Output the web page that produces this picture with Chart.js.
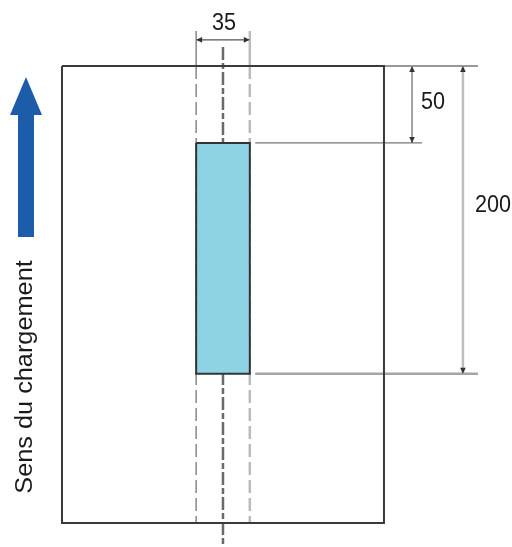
<!DOCTYPE html>
<html>
<head>
<meta charset="utf-8">
<script src="https://cdn.jsdelivr.net/npm/chart.js@4"></script>
<style>
  html, body { margin: 0; padding: 0; background: #fff; }
  #wrap { width: 512px; height: 547px; }
</style>
</head>
<body>
<div id="wrap"><canvas id="diagram"></canvas></div>
<script>
// values in mm (A4 sheet, strip 35 wide, from 50 to 200 from the leading edge)
var paperSize = [210, 297];
var stripWidth = 35;
var stripStart = 50;
var stripEnd = 200;
var dimLabels = ['35', '50', '200'];
var directionLabel = 'Sens du chargement';

var cx = paperSize[0] / 2;
var sx0 = cx - stripWidth / 2, sx1 = cx + stripWidth / 2;
var dim35Y = -17, dim50X = 228.3, dim200X = 261.5, extEnd = 271.3, ext50End = 234.8, extStart = 126;

function seg(x0, y0, x1, y1) { return [{x: x0, y: y0}, {x: x1, y: y1}]; }
function line(data, color, width, dash) {
  return { data: data, borderColor: color, borderWidth: width, borderDash: dash || [],
           pointRadius: 0, showLine: true, fill: false, tension: 0 };
}

var datasets = [
  // strip (on top)
  { data: [{x: sx0, y: stripStart}, {x: sx1, y: stripStart}, {x: sx1, y: stripEnd}, {x: sx0, y: stripEnd}, {x: sx0, y: stripStart}],
    borderColor: '#333', borderWidth: 2, backgroundColor: '#8dd3e4', fill: 'shape', pointRadius: 0, showLine: true },
  // paper
  line([{x: 0, y: 0}, {x: paperSize[0], y: 0}, {x: paperSize[0], y: paperSize[1]}, {x: 0, y: paperSize[1]}, {x: 0, y: 0}], '#3a3a3a', 2),
  // center dash-dot line
  line(seg(cx, -12.3, cx, 315), '#6a6a6a', 2.5, [13, 3, 6, 3]),
  // strip width extension lines
  line(seg(sx0, -22.7, sx0, 0), '#888', 1.5),
  line(seg(sx0, 0, sx0, paperSize[1]), '#888', 1.5, [13, 5]),
  line(seg(sx1, -22.7, sx1, 0), '#bbb', 2.5),
  line(seg(sx1, 0, sx1, paperSize[1]), '#bbb', 2.5, [13, 5]),
  // 35 dimension
  line(seg(sx0, dim35Y, sx1, dim35Y), '#555', 1.2),
  // top edge extension
  line(seg(paperSize[0], 0, extEnd, 0), '#999', 2),
  // 50 extension + dimension
  line(seg(extStart, stripStart, ext50End, stripStart), '#777', 1.2),
  line(seg(dim50X, 0, dim50X, stripStart), '#666', 1.2),
  // 200 extension + dimension
  line(seg(extStart, stripEnd, extEnd, stripEnd), '#a5a5a5', 2.5),
  line(seg(dim200X, 0, dim200X, stripEnd), '#bdbdbd', 2.5)
];

var annotate = {
  id: 'annotate',
  afterDatasetsDraw: function (chart) {
    var c = chart.ctx, xs = chart.scales.x, ys = chart.scales.y;
    var px = function (v) { return xs.getPixelForValue(v); };
    var py = function (v) { return ys.getPixelForValue(v); };
    function head(x, y, ang) {
      c.save();
      c.translate(x, y); c.rotate(ang);
      c.beginPath(); c.moveTo(0, 0); c.lineTo(-6, -2.8); c.lineTo(-6, 2.8); c.closePath();
      c.fillStyle = '#333'; c.fill();
      c.restore();
    }
    head(px(sx0), py(dim35Y), Math.PI);
    head(px(sx1), py(dim35Y), 0);
    head(px(dim50X), py(0), -Math.PI / 2);
    head(px(dim50X), py(stripStart), Math.PI / 2);
    head(px(dim200X), py(0), -Math.PI / 2);
    head(px(dim200X), py(stripEnd), Math.PI / 2);

    c.save();
    c.fillStyle = '#1a1a1a';
    c.font = '24px "Liberation Sans", Arial, sans-serif';
    c.textAlign = 'center';
    c.textBaseline = 'middle';
    function txt(s, x, y) {
      c.save(); c.translate(x, y); c.scale(0.9, 1); c.fillText(s, 0, 0); c.restore();
    }
    txt(dimLabels[0], px(cx) + 1, py(dim35Y) - 16);
    txt(dimLabels[1], px(dim50X) + 21, 102);
    txt(dimLabels[2], px(dim200X) + 30, 205);
    c.restore();

    // loading direction arrow
    var ax = 26;
    c.save();
    c.fillStyle = '#1d5ca9';
    c.beginPath();
    c.moveTo(ax, 77); c.lineTo(ax + 16, 115); c.lineTo(ax + 8, 115); c.lineTo(ax + 8, 237);
    c.lineTo(ax - 8, 237); c.lineTo(ax - 8, 115); c.lineTo(ax - 16, 115); c.closePath();
    c.fill();
    c.translate(ax, 377);
    c.rotate(-Math.PI / 2);
    c.scale(1.1, 1);
    c.fillStyle = '#1a1a1a';
    c.font = '23px "Liberation Sans", Arial, sans-serif';
    c.textAlign = 'center';
    c.textBaseline = 'middle';
    c.fillText(directionLabel, 0, 0);
    c.restore();
  }
};

new Chart(document.getElementById('diagram').getContext('2d'), {
  type: 'scatter',
  data: { datasets: datasets },
  options: {
    responsive: true,
    maintainAspectRatio: false,
    animation: false,
    layout: { padding: 0 },
    plugins: { legend: { display: false }, tooltip: { enabled: false } },
    scales: {
      x: { type: 'linear', display: false, min: -40.43, max: 293.5 },
      y: { type: 'linear', display: false, reverse: true, min: -42.89, max: 312.6 }
    }
  },
  plugins: [annotate]
});
</script>
</body>
</html>
